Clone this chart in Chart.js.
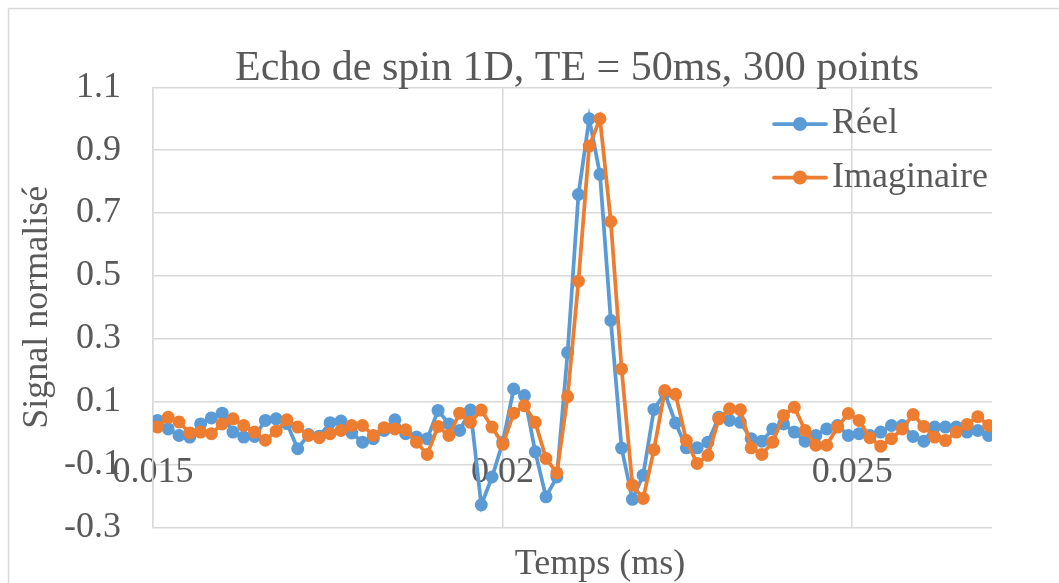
<!DOCTYPE html>
<html lang="fr">
<head>
<meta charset="utf-8">
<title>Echo de spin 1D</title>
<script src="https://cdn.jsdelivr.net/npm/chart.js@4.4.1/dist/chart.umd.min.js"></script>
<style>
  html, body { margin: 0; padding: 0; background: #ffffff; }
  #wrap { position: relative; width: 1059px; height: 583px; }
</style>
</head>
<body>
<div id="wrap"><canvas id="chart" width="1059" height="583"></canvas></div>
<script>

// sample times
const temps = [
  0.015063, 0.015217, 0.015372, 0.015526, 0.015681, 0.015835, 0.015989, 0.016144,
  0.016298, 0.016453, 0.016607, 0.016761, 0.016916, 0.017070, 0.017225, 0.017379,
  0.017533, 0.017688, 0.017842, 0.017997, 0.018151, 0.018305, 0.018460, 0.018614,
  0.018769, 0.018923, 0.019077, 0.019232, 0.019386, 0.019541, 0.019695, 0.019849,
  0.020004, 0.020158, 0.020313, 0.020467, 0.020621, 0.020776, 0.020930, 0.021085,
  0.021239, 0.021393, 0.021548, 0.021702, 0.021857, 0.022011, 0.022165, 0.022320,
  0.022474, 0.022629, 0.022783, 0.022937, 0.023092, 0.023246, 0.023401, 0.023555,
  0.023709, 0.023864, 0.024018, 0.024173, 0.024327, 0.024481, 0.024636, 0.024790,
  0.024945, 0.025099, 0.025253, 0.025408, 0.025562, 0.025717, 0.025871, 0.026025,
  0.026180, 0.026334, 0.026489, 0.026643, 0.026797, 0.026952
];

// real part
const reel = [
  0.040, 0.013, -0.008, -0.013, 0.029, 0.048, 0.063, 0.003,
  -0.013, -0.011, 0.040, 0.045, 0.030, -0.050, -0.005, -0.010,
  0.033, 0.038, 0.000, -0.029, -0.018, 0.008, 0.042, -0.002,
  -0.013, -0.018, 0.072, 0.029, 0.008, 0.073, -0.229, -0.140,
  -0.029, 0.140, 0.119, -0.060, -0.203, -0.140, 0.256, 0.759,
  1.000, 0.823, 0.358, -0.048, -0.211, -0.134, 0.075, 0.127,
  0.032, -0.047, -0.047, -0.029, 0.050, 0.040, 0.034, -0.018,
  -0.026, 0.013, 0.029, 0.003, -0.026, -0.008, 0.013, 0.024,
  -0.008, -0.002, -0.008, 0.003, 0.024, 0.024, -0.011, -0.026,
  0.019, 0.019, 0.019, 0.003, 0.008, -0.008
];

// imaginary part
const imaginaire = [
  0.019, 0.050, 0.035, 0.000, 0.003, -0.002, 0.029, 0.045,
  0.024, 0.003, -0.023, 0.006, 0.042, 0.019, -0.008, -0.015,
  -0.002, 0.008, 0.024, 0.024, -0.008, 0.017, 0.013, 0.010,
  -0.029, -0.068, 0.021, -0.008, 0.063, 0.034, 0.073, 0.019,
  -0.036, 0.063, 0.087, 0.034, -0.081, -0.127, 0.116, 0.483,
  0.913, 1.000, 0.673, 0.204, -0.166, -0.208, -0.053, 0.135,
  0.123, -0.024, -0.097, -0.071, 0.045, 0.077, 0.074, -0.047,
  -0.068, -0.029, 0.056, 0.082, 0.008, -0.039, -0.039, 0.019,
  0.062, 0.040, -0.015, -0.042, -0.018, 0.013, 0.059, 0.021,
  -0.013, -0.024, 0.003, 0.027, 0.052, 0.024
];

const xTicks = [0.015, 0.02, 0.025];
const yTicks = [-0.3, -0.1, 0.1, 0.3, 0.5, 0.7, 0.9, 1.1];
const series = ['Réel', 'Imaginaire'];

const titre = 'Echo de spin 1D, TE = 50ms, 300 points';
const titreX = 'Temps (ms)';
const titreY = 'Signal normalisé';

const couleurs = ['#5B9BD5', '#ED7D31'];
const gris = '#595959';
const grille = '#d9d9d9';
const police = '"Times New Roman", "Liberation Serif", serif';


/*
* white background, chart border, title, x axis title and legend
*/
const decor = {
  id: 'decor',
  beforeDraw(chart) {
    const ctx = chart.ctx;
    ctx.save();
    ctx.fillStyle = '#ffffff';
    ctx.fillRect(0, 0, chart.width, chart.height);
    ctx.strokeStyle = grille;
    ctx.lineWidth = 1.5;
    ctx.beginPath();
    ctx.moveTo(8.5, chart.height);
    ctx.lineTo(8.5, 8.5);
    ctx.lineTo(chart.width, 8.5);
    ctx.stroke();
    ctx.restore();
  },
  afterDraw(chart) {
    const ctx = chart.ctx;
    ctx.save();
    ctx.fillStyle = gris;
    ctx.textAlign = 'center';
    ctx.textBaseline = 'alphabetic';
    ctx.font = '42px ' + police;
    ctx.fillText(titre, 577, 80);
    ctx.font = '36px ' + police;
    ctx.fillText(titreX, 600, 574);

    // legend: line + marker, then label
    ctx.textAlign = 'left';
    ctx.textBaseline = 'middle';
    series.forEach(function(nom, i) {
      const y = 124 + i * 53.5;
      ctx.strokeStyle = couleurs[i];
      ctx.lineWidth = 3.75;
      ctx.lineCap = 'round';
      ctx.beginPath();
      ctx.moveTo(774, y);
      ctx.lineTo(826, y);
      ctx.stroke();
      ctx.fillStyle = couleurs[i];
      ctx.beginPath();
      ctx.arc(800, y, 7, 0, Math.PI * 2);
      ctx.fill();
      ctx.fillStyle = gris;
      ctx.fillText(nom, 832, y);
    });
    ctx.restore();
  }
};

function points(values) {
  return values.map(function(v, i) { return { x: temps[i], y: v }; });
}

function dataset(i, values, order) {
  return {
    label: series[i],
    data: points(values),
    borderColor: couleurs[i],
    backgroundColor: couleurs[i],
    pointBackgroundColor: couleurs[i],
    pointBorderColor: couleurs[i],
    borderWidth: 3.75,
    pointRadius: 5.5,
    pointBorderWidth: 2,
    tension: 0,
    order: order
  };
}

const tickFont = { family: police, size: 36 };

new Chart(document.getElementById('chart'), {
  type: 'line',
  data: {
    datasets: [
      dataset(0, reel, 1),
      dataset(1, imaginaire, 0)
    ]
  },
  options: {
    responsive: false,
    animation: false,
    devicePixelRatio: 1,
    layout: { padding: { top: 87.3, right: 67, bottom: 55.7, left: 0 } },
    plugins: {
      legend: { display: false },
      tooltip: { enabled: false },
      title: { display: false }
    },
    scales: {
      x: {
        type: 'linear',
        position: { y: -0.1 },
        min: 0.015,
        max: 0.027,
        afterBuildTicks: function(s) { s.ticks = xTicks.map(function(v) { return { value: v }; }); },
        grid: { color: grille, lineWidth: 1.5, drawTicks: false },
        border: { display: false },
        ticks: {
          font: tickFont, color: gris, padding: -13,
          maxRotation: 0, autoSkip: false,
          callback: function(v) { return String(v); }
        }
      },
      y: {
        type: 'linear',
        min: -0.3,
        max: 1.1,
        afterBuildTicks: function(s) { s.ticks = yTicks.map(function(v) { return { value: v }; }); },
        afterFit: function(s) { s.width = 153; },
        grid: { color: grille, lineWidth: 1.5, drawTicks: false },
        border: { display: true, color: grille, width: 1.5 },
        ticks: {
          font: tickFont, color: gris, padding: 32,
          callback: function(v) { return String(v); }
        },
        title: {
          display: true, text: titreY, color: gris,
          font: tickFont, padding: { top: 16, bottom: 0 }
        }
      }
    }
  },
  plugins: [decor]
});
</script>
</body>
</html>
